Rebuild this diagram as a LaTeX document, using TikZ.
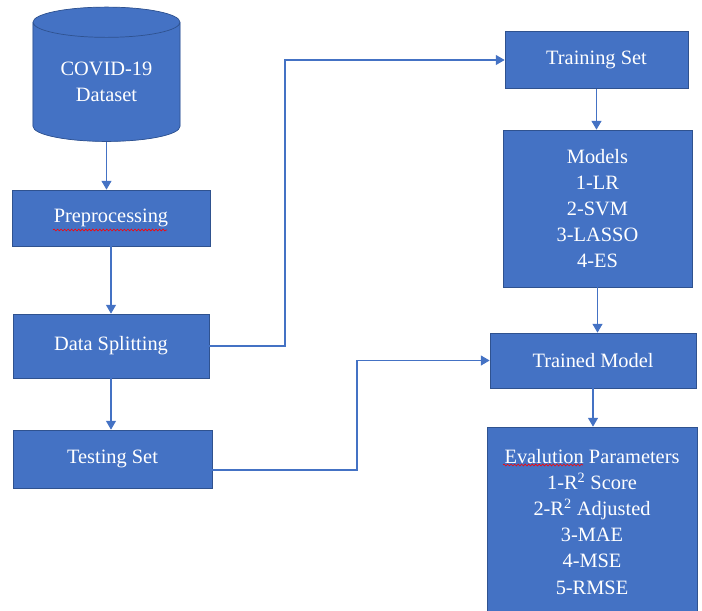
\documentclass[tikz,border=0pt]{standalone}
\usepackage{fontspec}
\setmainfont{Liberation Serif}
\usetikzlibrary{shapes.geometric,arrows.meta,decorations.pathmorphing}
\definecolor{boxblue}{HTML}{4472C4}
\definecolor{edgeblue}{HTML}{2F528F}
\definecolor{lidblue}{HTML}{8FAADC}
\tikzset{
    stepbox/.style={draw=edgeblue, line width=0.6pt, fill=boxblue, text=white,
        font=\fontsize{17.4}{22.2}\selectfont, align=center, inner sep=0pt},
    flow/.style={draw=boxblue, line width=0.9pt, -{Triangle[width=8.5pt,length=7.5pt]}},
    spell/.style={draw=red, line width=0.5pt, decorate,
        decoration={snake, segment length=3pt, amplitude=0.8pt}}
}
\begin{document}
\begin{tikzpicture}[x=0.03cm, y=-0.03cm]
    \useasboundingbox (0,0) rectangle (702,610);
    \clip (0,0) rectangle (702,610);

    % left column
    \node[stepbox, cylinder, shape border rotate=90, aspect=0.33,
        cylinder uses custom fill, cylinder body fill=boxblue, cylinder end fill=lidblue,
        minimum width=4.41cm, minimum height=4.03cm] (db) at (106.5,82) {COVID-19\\Dataset};
    \node[stepbox, minimum width=5.94cm, minimum height=1.68cm] (prep) at (111,218) {Preprocessing};
    \node[stepbox, minimum width=5.88cm, minimum height=1.92cm] (split) at (111,346) {Data Splitting};
    \node[stepbox, minimum width=5.97cm, minimum height=1.74cm] (test) at (112.5,459) {Testing Set};

    % right column
    \node[stepbox, minimum width=5.49cm, minimum height=1.71cm] (train) at (596.5,60) {Training Set};
    \node[stepbox, minimum width=5.67cm, minimum height=4.71cm] (models) at (597.5,208.5)
        {Models\\1-LR\\2-SVM\\3-LASSO\\4-ES};
    \node[stepbox, minimum width=6.18cm, minimum height=1.65cm] (trained) at (593,360.5) {Trained Model};
    \node[stepbox, minimum width=6.3cm, minimum height=5.7cm] (eval) at (592,522)
        {Evalution Parameters\\1-R\textsuperscript{2} Score\\2-R\textsuperscript{2} Adjusted\\3-MAE\\4-MSE\\5-RMSE};

    \draw[spell] (53,230) -- (167,230);
    \draw[spell] (503,465) -- (583,465);

    % connectors
    \coordinate (upturn) at (285,0);
    \coordinate (lowturn) at (357,0);
    \draw[flow] (db.south) -- (db.south |- prep.north);
    \draw[flow] (prep.south) -- (prep.south |- split.north);
    \draw[flow] (split.south) -- (split.south |- test.north);
    \draw[flow] (split.east) -- (split.east -| upturn) |- (train.west);
    \draw[flow] ([yshift=-0.33cm]test.east) -- ([yshift=-0.33cm]test.east -| lowturn) |- (trained.west);
    \draw[flow] (train.south) -- (train.south |- models.north);
    \draw[flow] (models.south) -- (models.south |- trained.north);
    \draw[flow] (trained.south) -- (trained.south |- eval.north);
\end{tikzpicture}
\end{document}
